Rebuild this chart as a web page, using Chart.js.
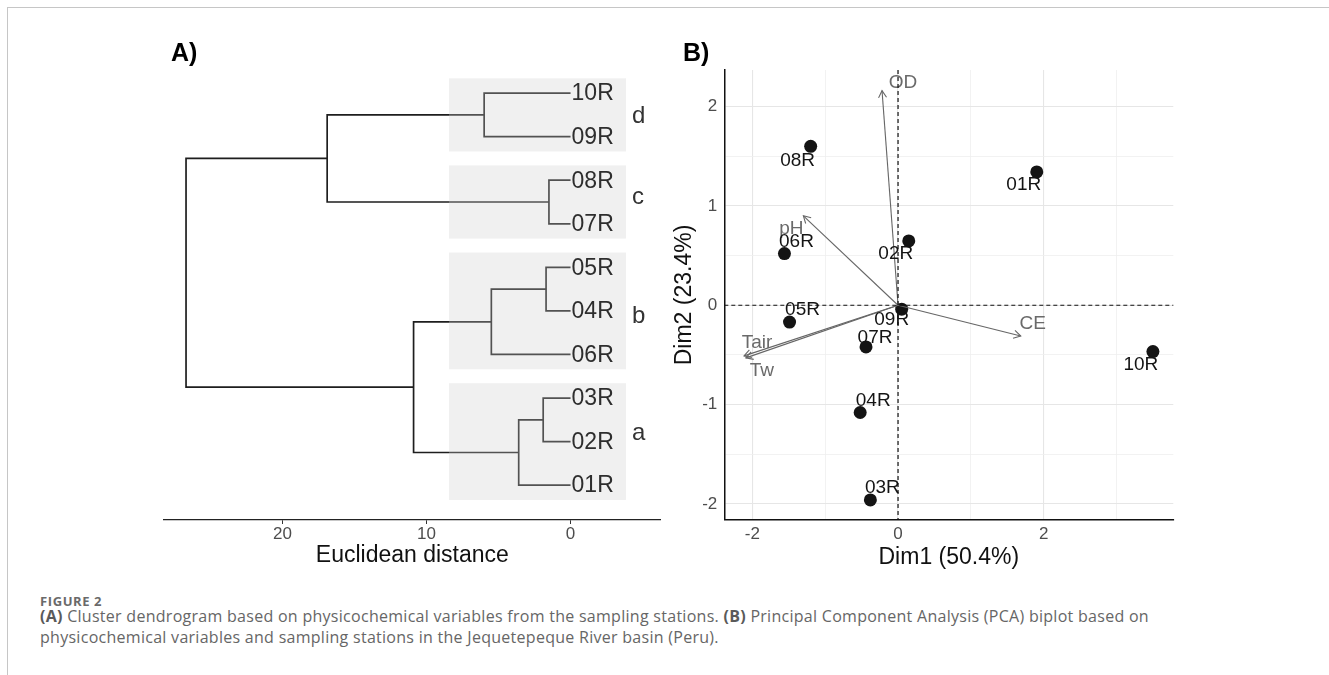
<!DOCTYPE html>
<html><head><meta charset="utf-8">
<script src="https://cdn.jsdelivr.net/npm/chart.js@4.4.1/dist/chart.umd.min.js"></script>
<style>
html,body{margin:0;padding:0;background:#fff;width:1329px;height:675px;overflow:hidden;position:relative;font-family:"Liberation Sans",Arial,sans-serif;}
#frame{position:absolute;left:7px;top:7px;width:1330px;height:680px;border-top:1.5px solid #c6c6c6;border-left:1.5px solid #c6c6c6;}
canvas{position:absolute;top:0;}
#ca{left:0;}
#cb{left:660px;}
.plab{position:absolute;font:bold 25px "Liberation Sans",Arial,sans-serif;line-height:25px;color:#000;}
#fig{position:absolute;left:40px;top:594px;font:bold 13px "Open Sans",sans-serif;line-height:15px;color:#6a6a6a;letter-spacing:0.6px;}
#cap{position:absolute;left:40px;top:606px;font:16px "Open Sans",sans-serif;line-height:21px;color:#666;white-space:nowrap;letter-spacing:0.28px;}
#cap b{color:#5a5a5a;}
</style>
</head><body>
<div id="frame"></div>
<canvas id="ca" width="665" height="580"></canvas>
<canvas id="cb" width="669" height="580"></canvas>
<div class="plab" style="left:171px;top:40px;">A)</div>
<div class="plab" style="left:683px;top:40px;">B)</div>
<div id="fig">FIGURE 2</div>
<div id="cap"><b>(A)</b> Cluster dendrogram based on physicochemical variables from the sampling stations. <b>(B)</b> Principal Component Analysis (PCA) biplot based on<br>physicochemical variables and sampling stations in the Jequetepeque River basin (Peru).</div>
<script>
// ---------- Panel A data: hierarchical clustering ----------
const leaves = ['10R','09R','08R','07R','05R','04R','06R','03R','02R','01R'];
const mergeLeft   = ['10R','08R','m1','05R','m4','03R','m6','m5','m3'];
const mergeRight  = ['09R','07R','m2','04R','06R','02R','01R','m7','m8'];
const mergeHeight = [6.0, 1.5, 16.9, 1.7, 5.5, 1.9, 3.6, 10.9, 26.7];
const clusterNames   = ['d','c','b','a'];
const clusterMembers = [['10R','09R'],['08R','07R'],['05R','04R','06R'],['03R','02R','01R']];
const distTicks = [0, 10, 20];

// ---------- Panel B data: PCA biplot ----------
const stations = ['01R','02R','03R','04R','05R','06R','07R','08R','09R','10R'];
const dim1 = [1.905, 0.147, -0.38, -0.52, -1.49, -1.56, -0.44, -1.20, 0.05, 3.50];
const dim2 = [1.342, 0.647, -1.96, -1.08, -0.17, 0.52, -0.42, 1.60, -0.04, -0.467];
const variables = ['OD','pH','CE','Tair','Tw'];
const varDim1 = [-0.22, -1.30, 1.685, -2.115, -2.09];
const varDim2 = [2.16, 0.90, -0.31, -0.51, -0.53];
const dimXTicks = [-2, 0, 2];
const dimYTicks = [-2, -1, 0, 1, 2];

// ---------- layout / style (not data) ----------
const FONT = '"Liberation Sans", Arial, sans-serif';
const BOX_FROM = 8.44, BOX_TO = -3.85, BOX_PAD = 0.34;
const clusterLetterDy = [2, -5, 5, -8.5]; // px
const stationLabelOffset = { // px offsets of label centre from point
  '01R':[-13,13], '02R':[-13,13], '03R':[12,-12], '04R':[13,-12], '05R':[13,-12],
  '06R':[12,-12], '07R':[9,-9], '08R':[-13,14], '09R':[-10,11], '10R':[-12,13]
};
const varLabelOffset = { 'OD':[21,-8], 'pH':[-12,13], 'CE':[12,-12], 'Tair':[13,-13], 'Tw':[16,13] };

// ---------- Panel A ----------
const nodeY = {}, nodeH = {};
leaves.forEach((l,i)=>{ nodeY[l]=i; nodeH[l]=0; });
const dendroSets = mergeHeight.map((h,k)=>{
  const a = mergeLeft[k], b = mergeRight[k];
  nodeY['m'+(k+1)] = (nodeY[a]+nodeY[b])/2; nodeH['m'+(k+1)] = h;
  return {
    data:[{x:nodeH[a],y:nodeY[a]},{x:h,y:nodeY[a]},{x:h,y:nodeY[b]},{x:nodeH[b],y:nodeY[b]}],
    showLine:true, pointRadius:0, borderColor:'#1e1e1e', borderWidth:1.7, tension:0, fill:false
  };
});

const dendroDecor = {
  id:'dendroDecor',
  afterDatasetsDraw(chart){
    const {ctx, scales:{x, y}} = chart;
    ctx.save();
    const x0 = x.getPixelForValue(BOX_FROM), x1 = x.getPixelForValue(BOX_TO);
    clusterMembers.forEach((mem,i)=>{
      const ys = mem.map(m=>nodeY[m]);
      const y0 = y.getPixelForValue(Math.min(...ys)-BOX_PAD);
      const y1 = y.getPixelForValue(Math.max(...ys)+BOX_PAD);
      ctx.fillStyle = 'rgba(205,205,205,0.3)';
      ctx.fillRect(x0, y0, x1-x0, y1-y0);
      ctx.fillStyle = '#333';
      ctx.font = '24px ' + FONT;
      ctx.textAlign = 'left'; ctx.textBaseline = 'middle';
      ctx.fillText(clusterNames[i], x1+6, (y0+y1)/2 + clusterLetterDy[i]);
    });
    ctx.font = '23px ' + FONT;
    ctx.fillStyle = '#2e2e2e';
    ctx.textAlign = 'left'; ctx.textBaseline = 'middle';
    leaves.forEach(l=>{
      ctx.fillText(l, x.getPixelForValue(0)+1, y.getPixelForValue(nodeY[l])+1);
    });
    ctx.restore();
  }
};

new Chart(document.getElementById('ca'), {
  type:'scatter',
  data:{ datasets: dendroSets },
  options:{
    responsive:false, animation:false, devicePixelRatio:1,
    layout:{ padding:{ left:164, right:4.3, top:70, bottom:10 } },
    plugins:{ legend:{display:false}, tooltip:{enabled:false} },
    scales:{
      x:{
        type:'linear', reverse:true, min:-6.26, max:28.23,
        afterFit(s){ s.height = 50; },
        afterBuildTicks(s){ s.ticks = distTicks.map(v=>({value:v})); },
        ticks:{ color:'#4d4d4d', font:{family:FONT, size:17}, padding:0, maxRotation:0 },
        grid:{ drawOnChartArea:false, drawTicks:true, tickLength:4, color:'#333', lineWidth:1 },
        border:{ display:true, color:'#222', width:1.3 },
        title:{ display:true, text:'Euclidean distance', color:'#111', font:{family:FONT, size:23}, padding:{top:0, bottom:1} }
      },
      y:{ type:'linear', reverse:true, min:-0.53, max:9.8, display:false }
    }
  },
  plugins:[dendroDecor]
});

// ---------- Panel B ----------
const arrowSets = variables.map((v,i)=>({
  data:[{x:0,y:0},{x:varDim1[i],y:varDim2[i]}],
  showLine:true, pointRadius:0, borderColor:'#666', borderWidth:1.1, tension:0, fill:false
}));
const pointSet = {
  data: stations.map((s,i)=>({x:dim1[i], y:dim2[i]})),
  showLine:false, pointRadius:6.5, pointHoverRadius:6.5,
  backgroundColor:'#141414', borderColor:'#141414', borderWidth:0
};

const pcaDecor = {
  id:'pcaDecor',
  afterDatasetsDraw(chart){
    const {ctx, chartArea:ca, scales:{x, y}} = chart;
    ctx.save();
    ctx.strokeStyle = '#666'; ctx.lineWidth = 1.1;
    ctx.font = '19px ' + FONT; ctx.fillStyle = '#6a6a6a';
    ctx.textAlign = 'center'; ctx.textBaseline = 'middle';
    variables.forEach((v,i)=>{
      const px0 = x.getPixelForValue(0), py0 = y.getPixelForValue(0);
      const tx = x.getPixelForValue(varDim1[i]), ty = y.getPixelForValue(varDim2[i]);
      const ang = Math.atan2(ty-py0, tx-px0), L = 8, A = Math.PI/6;
      ctx.beginPath();
      ctx.moveTo(tx - L*Math.cos(ang-A), ty - L*Math.sin(ang-A));
      ctx.lineTo(tx, ty);
      ctx.lineTo(tx - L*Math.cos(ang+A), ty - L*Math.sin(ang+A));
      ctx.stroke();
      const o = varLabelOffset[v];
      ctx.fillText(v, tx+o[0], ty+o[1]);
    });
    ctx.fillStyle = '#141414';
    stations.forEach((s,i)=>{
      const o = stationLabelOffset[s];
      ctx.fillText(s, x.getPixelForValue(dim1[i])+o[0], y.getPixelForValue(dim2[i])+o[1]);
    });
    ctx.strokeStyle = '#111'; ctx.lineWidth = 1.2; ctx.setLineDash([4,3]);
    const zx = x.getPixelForValue(0), zy = y.getPixelForValue(0);
    ctx.beginPath(); ctx.moveTo(ca.left, zy); ctx.lineTo(ca.right, zy); ctx.stroke();
    ctx.beginPath(); ctx.moveTo(zx, ca.top); ctx.lineTo(zx, ca.bottom); ctx.stroke();
    ctx.restore();
  }
};

const isMajor = (v, list) => list.some(t => Math.abs(t - v) < 1e-9);
new Chart(document.getElementById('cb'), {
  type:'scatter',
  data:{ datasets: [...arrowSets, pointSet] },
  options:{
    responsive:false, animation:false, devicePixelRatio:1,
    layout:{ padding:{ left:0, right:155.7, top:70, bottom:10 } },
    plugins:{ legend:{display:false}, tooltip:{enabled:false} },
    scales:{
      x:{
        type:'linear', min:-2.386, max:3.78,
        afterFit(s){ s.height = 50; },
        ticks:{ stepSize:1, includeBounds:false, color:'#4d4d4d', font:{family:FONT, size:17}, padding:4, maxRotation:0,
          callback:(v)=> isMajor(v, dimXTicks) ? String(v) : '' },
        grid:{ drawTicks:false, color:(c)=> isMajor(c.tick.value, dimXTicks) ? '#e6e6e6' : '#efefef',
          lineWidth:(c)=> isMajor(c.tick.value, dimXTicks) ? 1.1 : 0.8 },
        border:{ display:true, color:'#111', width:1.5 },
        title:{ display:true, text:'Dim1 (50.4%)', color:'#111', font:{family:FONT, size:23}, padding:{top:0, bottom:-1} }
      },
      y:{
        type:'linear', min:-2.162, max:2.368,
        afterFit(s){ s.width = 64.3; },
        ticks:{ stepSize:0.5, includeBounds:false, color:'#4d4d4d', font:{family:FONT, size:17}, padding:7,
          callback:(v)=> isMajor(v, dimYTicks) ? String(v) : '' },
        grid:{ drawTicks:false, color:(c)=> isMajor(c.tick.value, dimYTicks) ? '#e6e6e6' : '#efefef',
          lineWidth:(c)=> isMajor(c.tick.value, dimYTicks) ? 1.1 : 0.8 },
        border:{ display:true, color:'#111', width:1.5 },
        title:{ display:true, text:'Dim2 (23.4%)', color:'#111', font:{family:FONT, size:23}, padding:{top:11, bottom:0} }
      }
    }
  },
  plugins:[pcaDecor]
});
</script>
</body></html>
